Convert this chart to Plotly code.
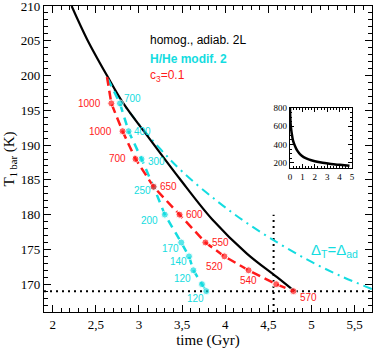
import plotly.graph_objects as go

# black curve: homogeneous adiabatic model
black_t = [2.22, 2.40, 2.63, 2.82, 3.10, 3.47, 3.85, 4.25, 4.60, 4.80]
black_T = [210.0, 205.2, 200.0, 196.0, 191.3, 185.2, 179.3, 174.4, 171.0, 169.0]

# cyan dash-dot: Delta_T = Delta_ad
dd_t = [2.63, 2.80, 3.00, 3.25, 3.50, 3.90, 4.25, 4.63, 5.00, 5.35, 5.70]
dd_T = [199.7, 196.3, 193.0, 189.4, 186.2, 182.0, 178.8, 175.8, 173.2, 171.1, 169.3]

# red dashed c3=0.1 (first point = start of branch, no label)
red_t = [2.63, 2.68, 2.81, 2.96, 3.17, 3.47, 3.77, 3.99, 4.27, 4.59, 4.79]
red_T = [199.8, 196.0, 192.0, 188.0, 184.0, 180.0, 176.0, 174.0, 172.0, 170.0, 169.0]
red_labels = ["", "1000", "1000", "700", "650", "600", "550", "520", "540", "", "570"]

# cyan dashed H/He modif. 2
cy_t = [2.64, 2.78, 2.88, 3.03, 3.17, 3.30, 3.49, 3.58, 3.63, 3.73, 3.78]
cy_T = [199.5, 196.0, 192.0, 188.0, 184.0, 180.0, 176.0, 174.0, 172.0, 170.0, 169.0]
cy_labels = ["", "700", "400", "300", "250", "200", "170", "140", "120", "", "120"]

# inset: whole evolution
ins_t = [0.0, 0.02, 0.06, 0.13, 0.25, 0.4, 0.6, 0.8, 1.1, 1.5, 2.0, 2.63, 3.3, 4.0, 4.8]
ins_T = [800, 700, 610, 530, 440, 385, 330, 295, 262, 238, 218, 200, 187, 178, 169]

age_sun = 4.56
T_now = 169.0

RED = "#ff1a1a"
CYAN = "#14dce0"

# label offsets in px (dx, dy) -- style only
red_off = [(0, 0), (-22, 0), (-22, 0), (-18, -1), (15, 0), (15, 0), (15, 0), (-10, 10), (0, 10), (0, 0), (15, 6)]
cy_off = [(0, 0), (13, 5), (14, 0), (15, -2), (-11, -4), (-15, -6), (-11, -6), (-11, -5), (-11, -8), (0, 0), (-11, -7)]

fig = go.Figure()

fig.add_trace(go.Scatter(x=[1.9, 5.7], y=[T_now, T_now], mode="lines",
                         line=dict(color="black", width=2, dash="2px,4px"), showlegend=False))
fig.add_trace(go.Scatter(x=[age_sun, age_sun], y=[166, 180], mode="lines",
                         line=dict(color="black", width=2, dash="2px,4px"), showlegend=False))

fig.add_trace(go.Scatter(x=dd_t, y=dd_T, mode="lines", line_shape="spline",
                         line=dict(color=CYAN, width=2, dash="9px,5px,2px,5px"), showlegend=False))
fig.add_trace(go.Scatter(x=black_t, y=black_T, mode="lines", line_shape="spline",
                         line=dict(color="black", width=2.2), showlegend=False))
fig.add_trace(go.Scatter(x=cy_t, y=cy_T, mode="lines+markers",
                         line=dict(color=CYAN, width=2.5, dash="8px,6px"),
                         marker=dict(color=CYAN, size=[0] + [7] * (len(cy_t) - 1)), showlegend=False))
fig.add_trace(go.Scatter(x=red_t, y=red_T, mode="lines+markers",
                         line=dict(color=RED, width=2.5, dash="9px,5px"),
                         marker=dict(color=RED, size=[0] + [7] * (len(red_t) - 1)), showlegend=False))

fig.add_trace(go.Scatter(x=ins_t, y=ins_T, mode="lines", line_shape="spline",
                         line=dict(color="black", width=2.5), xaxis="x2", yaxis="y2", showlegend=False))

ann = []
for t, T, lab, (dx, dy) in zip(red_t, red_T, red_labels, red_off):
    if lab:
        ann.append(dict(x=t, y=T, text=lab, showarrow=False, xshift=dx, yshift=-dy,
                        font=dict(family="Liberation Sans", size=10, color=RED)))
for t, T, lab, (dx, dy) in zip(cy_t, cy_T, cy_labels, cy_off):
    if lab:
        ann.append(dict(x=t, y=T, text=lab, showarrow=False, xshift=dx, yshift=dy,
                        font=dict(family="Liberation Sans", size=10, color=CYAN)))

ann += [
    dict(x=3.11, y=205.1, text="homog., adiab. 2L", xanchor="left", showarrow=False,
         font=dict(family="Liberation Sans", size=12, color="black")),
    dict(x=3.11, y=202.4, text="<b>H/He modif. 2</b>", xanchor="left", showarrow=False,
         font=dict(family="Liberation Sans", size=12, color=CYAN)),
    dict(x=3.11, y=199.9, text="c<sub>3</sub>=0.1", xanchor="left", showarrow=False,
         font=dict(family="Liberation Sans", size=12, color=RED)),
    dict(x=5.26, y=174.9, text="Δ<sub>T</sub>=Δ<sub>ad</sub>", showarrow=False,
         font=dict(family="Liberation Sans", size=15, color=CYAN)),
]

axfont = dict(family="Liberation Serif", size=13, color="black")
titlefont = dict(family="Liberation Serif", size=15, color="black")
common = dict(showgrid=False, zeroline=False, showline=True, linecolor="black", linewidth=1.2,
              mirror="allticks", ticks="inside", tickcolor="black", automargin=False,
              ticklabeloverflow="allow")

fig.update_layout(
    width=374, height=349,
    margin=dict(l=44, r=2, t=6, b=37),
    plot_bgcolor="white", paper_bgcolor="white",
    font=dict(color="black"),
    separators=", ",
    annotations=ann,
    xaxis=dict(range=[1.9, 5.7], tick0=2, dtick=0.5, ticklen=7, tickfont=axfont,
               minor=dict(dtick=0.1, ticklen=4, ticks="inside", tickcolor="black"),
               title=dict(text="time (Gyr)", font=titlefont, standoff=2),
               **common),
    yaxis=dict(range=[166, 210], tick0=170, dtick=5, ticklen=7, tickfont=axfont,
               minor=dict(dtick=1, ticklen=4, ticks="inside", tickcolor="black"),
               title=dict(text="T<sub>1 bar</sub> (K)", font=titlefont, standoff=2),
               **common),
    xaxis2=dict(domain=[0.75, 0.939], anchor="y2", range=[0, 5], dtick=1, ticklen=4,
                tickfont=dict(family="Liberation Serif", size=9, color="black"),
                minor=dict(dtick=0.25, ticklen=2, ticks="inside", tickcolor="black"),
                **common),
    yaxis2=dict(domain=[0.471, 0.667], anchor="x2", range=[145, 800], tickvals=[200, 400, 600, 800], ticklen=4,
                tickfont=dict(family="Liberation Serif", size=9, color="black"),
                minor=dict(dtick=50, ticklen=2, ticks="inside", tickcolor="black"),
                **common),
)

# page body has a default 8px margin; drop it so the figure fills the window
fig.write_html("out.html", config={"displayModeBar": False},
               post_script="document.body.style.margin='0';")
